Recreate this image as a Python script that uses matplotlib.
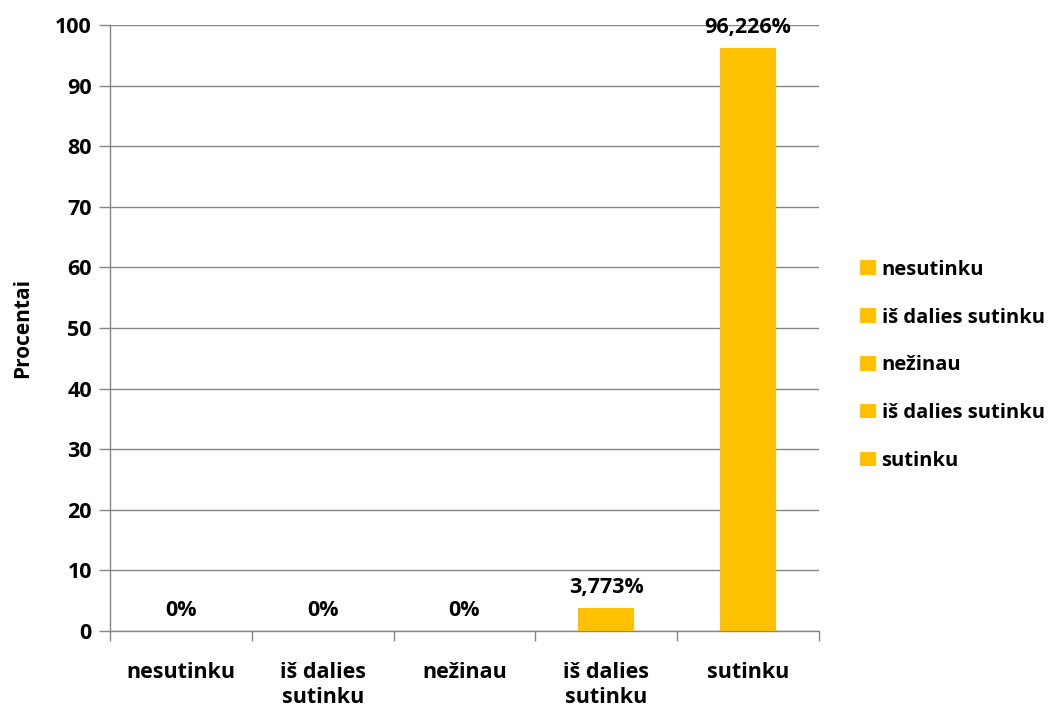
import matplotlib
matplotlib.use("Agg")
import matplotlib.pyplot as plt
from matplotlib.patches import Patch

categories = ["nesutinku", "iš dalies\nsutinku", "nežinau", "iš dalies\nsutinku", "sutinku"]
legend_labels = ["nesutinku", "iš dalies sutinku", "nežinau", "iš dalies sutinku", "sutinku"]
values = [0, 0, 0, 3.773, 96.226]
value_labels = ["0%", "0%", "0%", "3,773%", "96,226%"]
yticks = [0, 10, 20, 30, 40, 50, 60, 70, 80, 90, 100]

plt.rcParams['font.family'] = ['Open Sans', 'DejaVu Sans']
plt.rcParams['font.weight'] = 'bold'

FS = 15.5
color = "#FFC000"
grid = "#868686"

fig = plt.figure(figsize=(10.61, 7.08), dpi=100)
ax = fig.add_axes([0.1037, 0.1088, 0.668, 0.856])

x = list(range(len(categories)))
bars = ax.bar(x, values, width=0.4, color=color, zorder=3)
for xi, v, lab in zip(x, values, value_labels):
    ax.annotate(lab, (xi, v), xytext=(0, 7), textcoords="offset points",
                ha="center", va="bottom", fontsize=FS, fontweight="bold")

ax.set_xlim(-0.5, len(categories) - 0.5)
ax.set_ylim(0, 100)
ax.set_yticks(yticks)
ax.set_yticklabels([str(t) for t in yticks], fontsize=FS, fontweight="bold")
ax.yaxis.grid(True, color=grid, linewidth=1, zorder=0)
ax.set_axisbelow(True)

ax.set_xticks(x)
ax.set_xticklabels(categories, fontsize=FS, fontweight="bold", linespacing=1.25)
ax.set_xticks([i - 0.5 for i in range(len(categories) + 1)], minor=True)
ax.tick_params(axis='x', which='major', length=0, pad=22)
ax.tick_params(axis='x', which='minor', length=7, color=grid, width=1)
ax.tick_params(axis='y', length=8, color=grid, width=1, pad=5)

for s in ["top", "right"]:
    ax.spines[s].set_visible(False)
for s in ["left", "bottom"]:
    ax.spines[s].set_color(grid)
    ax.spines[s].set_linewidth(1)

ax.set_ylabel("Procentai", fontsize=15, fontweight="bold", labelpad=16)

handles = [Patch(facecolor=color, edgecolor="none") for _ in legend_labels]
leg = fig.legend(handles, legend_labels, loc="center left", bbox_to_anchor=(0.811, 0.484),
                 frameon=False, handlelength=0.75, handleheight=0.75,
                 handletextpad=0.3, labelspacing=1.38, borderpad=0, borderaxespad=0,
                 prop={'weight': 'bold', 'size': 14.5})

fig.savefig("out.png", dpi=100)
